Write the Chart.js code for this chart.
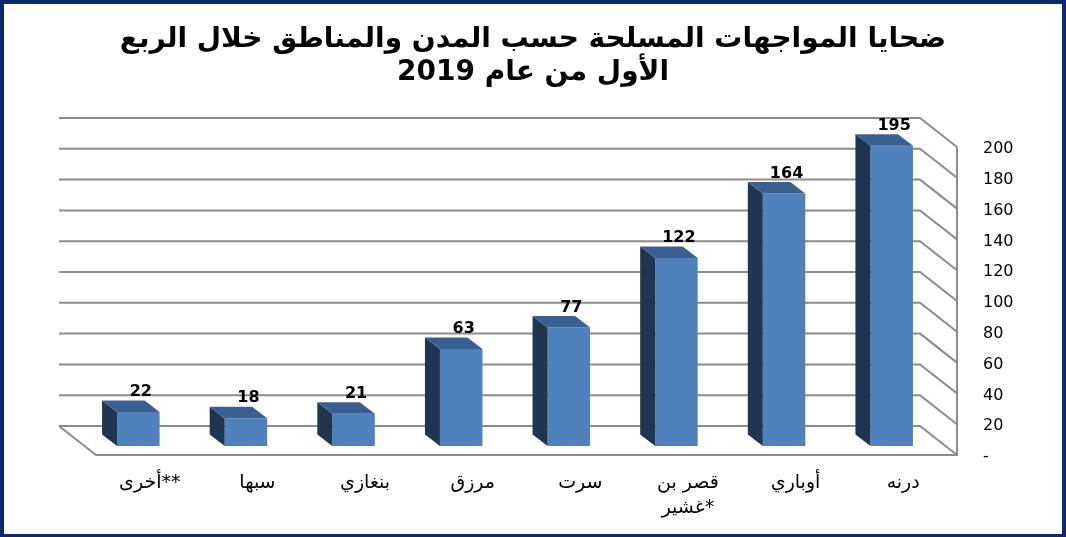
<!DOCTYPE html>
<html lang="ar">
<head>
<meta charset="utf-8">
<script src="https://cdn.jsdelivr.net/npm/chart.js@4.4.1/dist/chart.umd.min.js"></script>
<style>
    html, body { margin: 0; padding: 0; background: #ffffff; }
    canvas { display: block; }
</style>
</head>
<body>
<canvas id="victimsChart" width="1066" height="537"></canvas>
<script>
const titleLines = ['ضحايا المواجهات المسلحة حسب المدن والمناطق خلال الربع', 'الأول من عام 2019']
const cities = ['درنه', 'أوباري', ['قصر بن', 'غشير*'], 'سرت', 'مرزق', 'بنغازي', 'سبها', 'أخرى**']
const victims = [195, 164, 122, 77, 63, 21, 18, 22]
const valueTicks = [0, 20, 40, 60, 80, 100, 120, 140, 160, 180, 200]

// 3d look: back wall offset, bar depth and shift of the bars inside the box
const WALL = { x: -37, y: -29 }
const DEPTH = { x: -15, y: -11.5 }
const SHIFT = { x: -11.5, y: -9 }
const ARABIC_FONT = '"DejaVu Sans", sans-serif'

const threeDPlugin = {
    id: 'threeD',
    beforeDatasetsDraw(chart) {
        const {ctx, chartArea: {left, right, bottom}, scales: {y}} = chart
        ctx.save()
        ctx.strokeStyle = '#8c8c8c'
        ctx.lineWidth = 2
        valueTicks.forEach(v => {
            const yf = y.getPixelForValue(v)
            ctx.beginPath()
            ctx.moveTo(left + WALL.x, yf + WALL.y)
            ctx.lineTo(right + WALL.x, yf + WALL.y)
            ctx.lineTo(right, yf)
            ctx.stroke()
        })
        const yTop = y.getPixelForValue(valueTicks[valueTicks.length - 1])
        ctx.beginPath()
        ctx.moveTo(left + WALL.x, bottom + WALL.y)
        ctx.lineTo(left, bottom)
        ctx.lineTo(right, bottom)
        ctx.lineTo(right, yTop)
        ctx.stroke()
        ctx.restore()

        ctx.save()
        ctx.translate(SHIFT.x, SHIFT.y)
    },
    afterDatasetsDraw(chart) {
        const {ctx} = chart
        const values = chart.data.datasets[0].data
        chart.getDatasetMeta(0).data.forEach((bar, i) => {
            const {x, y, base, width} = bar.getProps(['x', 'y', 'base', 'width'], true)
            const l = x - width / 2
            const r = x + width / 2

            ctx.fillStyle = '#1f3550'
            ctx.beginPath()
            ctx.moveTo(l, y)
            ctx.lineTo(l + DEPTH.x, y + DEPTH.y)
            ctx.lineTo(l + DEPTH.x, base + DEPTH.y)
            ctx.lineTo(l, base)
            ctx.closePath()
            ctx.fill()

            ctx.fillStyle = '#3a6092'
            ctx.beginPath()
            ctx.moveTo(l, y)
            ctx.lineTo(l + DEPTH.x, y + DEPTH.y)
            ctx.lineTo(r + DEPTH.x, y + DEPTH.y)
            ctx.lineTo(r, y)
            ctx.closePath()
            ctx.fill()

            ctx.fillStyle = '#000000'
            ctx.font = 'bold 16px "DejaVu Sans", sans-serif'
            ctx.textAlign = 'center'
            ctx.textBaseline = 'middle'
            ctx.fillText(values[i], x + 2.5, y - 20)
        })
        ctx.restore()
    },
    afterDraw(chart) {
        const {ctx, width, height} = chart
        ctx.save()
        ctx.strokeStyle = '#10296a'
        ctx.lineWidth = 4
        ctx.strokeRect(2, 2, width - 4, height - 3)
        ctx.restore()
    }
}

document.addEventListener("DOMContentLoaded", function () {
    const canvas = document.getElementById("victimsChart")
    Chart.defaults.color = '#000000'

    new Chart(canvas, {
        type: 'bar',
        data: {
            labels: cities,
            datasets: [
                {
                    label: 'الضحايا',
                    data: victims,
                    backgroundColor: '#4f81bd',
                    borderWidth: 0,
                    categoryPercentage: 1,
                    barPercentage: 0.395,
                    clip: false,
                },
            ]
        },
        options: {
            responsive: false,
            animation: false,
            layout: {
                padding: 0
            },
            scales: {
                x: {
                    reverse: true,
                    grid: { display: false, drawTicks: false },
                    border: { display: false },
                    ticks: {
                        autoSkip: false,
                        maxRotation: 0,
                        padding: 16,
                        font: { size: 19, family: ARABIC_FONT, lineHeight: '25px' },
                    },
                    afterFit: (scale) => {
                        scale.height = 82
                        // leave room on the left for the slanted floor, title stays centred
                        scale.paddingLeft = 96
                    },
                },
                y: {
                    position: 'right',
                    min: 0,
                    max: 200,
                    grid: { display: false, drawTicks: false },
                    border: { display: false },
                    ticks: {
                        padding: 26,
                        labelOffset: 2,
                        font: { size: 16, family: '"DejaVu Sans", sans-serif' },
                        callback: (value) => value === 0 ? '-' : value,
                    },
                    afterBuildTicks: (scale) => {
                        scale.ticks = valueTicks.map(v => ({ value: v }))
                    },
                    afterFit: (scale) => { scale.width = 109 },
                }
            },
            plugins: {
                legend: { display: false },
                tooltip: { enabled: false },
                title: {
                    display: true,
                    text: titleLines,
                    color: '#000000',
                    padding: { top: 23, bottom: 58 },
                    font: { size: 28, weight: 'bold', family: ARABIC_FONT, lineHeight: '33px' },
                },
            }
        },
        plugins: [threeDPlugin]
    })
})
</script>
</body>
</html>
